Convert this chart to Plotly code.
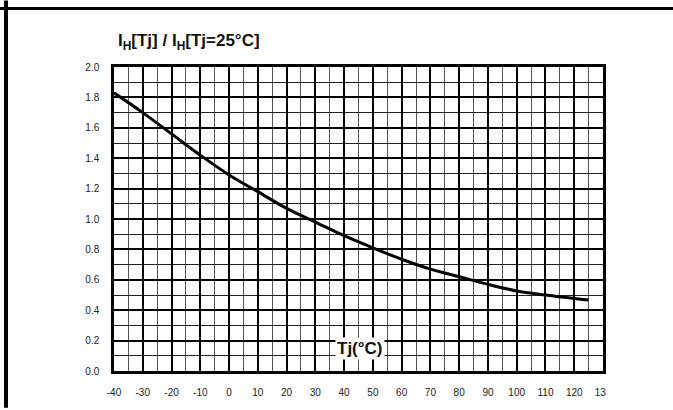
import plotly.graph_objects as go

# Data
tj = [-40, -30, -20, -10, 0, 10, 20, 30, 40, 50, 60, 70, 80, 90, 100, 110, 120, 125]
ratio = [1.83, 1.70, 1.56, 1.42, 1.29, 1.18, 1.07, 0.98, 0.89, 0.81, 0.735, 0.67, 0.62, 0.57, 0.527, 0.50, 0.477, 0.467]
x_ticks = [-40, -30, -20, -10, 0, 10, 20, 30, 40, 50, 60, 70, 80, 90, 100, 110, 120, 130]
y_ticks = [0.0, 0.2, 0.4, 0.6, 0.8, 1.0, 1.2, 1.4, 1.6, 1.8, 2.0]

W, H = 673, 410
L, R, T, B = 114, 70, 67, 37
pw, ph = W - L - R, H - T - B


def px(xp):
    return (xp - L) / pw


def py(yp):
    return (H - B - yp) / ph


fig = go.Figure()
fig.add_trace(go.Scatter(
    x=tj, y=ratio, mode="lines",
    line=dict(color="black", width=3, shape="spline"),
    showlegend=False, hoverinfo="skip",
))

tick_font = dict(family="Liberation Sans, Arial, sans-serif", size=10, color="#222")

fig.update_xaxes(
    range=[-40, 130], tickvals=x_ticks, ticktext=[str(v) for v in x_ticks],
    showgrid=True, gridcolor="black", gridwidth=1.6,
    minor=dict(dtick=5, tick0=-40, showgrid=True, gridcolor="#555", gridwidth=1.4),
    showline=True, linecolor="black", linewidth=2.5, mirror=True,
    ticks="", tickfont=tick_font, zeroline=False, ticklabelstandoff=10,
)
fig.update_yaxes(
    range=[0, 2], tickvals=y_ticks, ticktext=[f"{v:.1f}" for v in y_ticks],
    showgrid=True, gridcolor="black", gridwidth=1.6,
    minor=dict(dtick=0.1, tick0=0, showgrid=True, gridcolor="#222", gridwidth=1.4),
    showline=True, linecolor="black", linewidth=2.5, mirror=True,
    ticks="", tickfont=tick_font, zeroline=False, ticklabelstandoff=10,
)

shapes = [
    # outer frame lines of the source document
    dict(type="line", xref="paper", yref="paper", x0=px(0), x1=px(W), y0=py(8), y1=py(8),
         line=dict(color="black", width=3), layer="above"),
    dict(type="line", xref="paper", yref="paper", x0=px(6), x1=px(6), y0=py(0), y1=py(H),
         line=dict(color="black", width=4), layer="above"),
    # the scan is cropped through the last tick label
    dict(type="rect", xref="paper", yref="paper", x0=px(606), x1=px(W + 5), y0=py(H + 5), y1=py(379),
         fillcolor="white", line=dict(width=0), layer="above"),
]

annotations = [
    dict(text="<b>I<sub>H</sub>[Tj] / I<sub>H</sub>[Tj=25°C]</b>", xref="paper", yref="paper",
         x=px(116), y=py(42), xanchor="left", yanchor="middle", showarrow=False,
         font=dict(family="Liberation Sans, Arial, sans-serif", size=17, color="#111")),
    dict(text="<b>Tj(°C)</b>", xref="x", yref="y", x=45.5, y=0.145, showarrow=False,
         xanchor="center", yanchor="middle", bgcolor="white", borderpad=1,
         font=dict(family="Liberation Sans, Arial, sans-serif", size=17, color="#111")),
]

fig.update_layout(
    width=W, height=H,
    margin=dict(l=L, r=R, t=T, b=B),
    paper_bgcolor="white", plot_bgcolor="white",
    shapes=shapes, annotations=annotations,
    showlegend=False,
)

fig.write_html("out.html", config={"displayModeBar": False},
               post_script="document.body.style.margin='0';document.body.style.overflow='hidden';")
